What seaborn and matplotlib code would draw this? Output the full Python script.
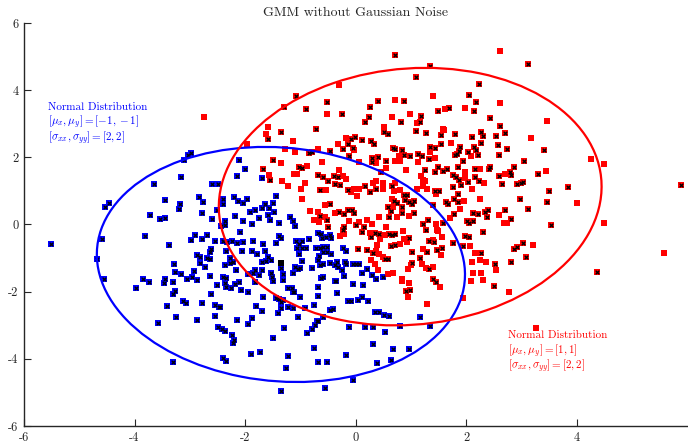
import numpy as np
import pandas as pd
import matplotlib
matplotlib.use("Agg")
import matplotlib.pyplot as plt
from matplotlib.patches import Ellipse
import seaborn as sns

# ---- samples assigned to the first component (blue squares with black crosses)
blue_x = [-2.98, -3.04, -3.10, -3.15, -3.65, -2.60, -2.48, -4.47, -4.53, -3.44, -3.18, -3.20, -2.84, -2.76,
          -2.51, -2.78, -3.72, -3.54, -3.45, -2.60, -2.44, -5.52, -4.58, -3.81, -2.90, -2.97, -2.78, -2.69,
          -2.54, -3.38, -2.61, -2.63, -4.68, -2.87, -2.81, -2.68, -2.63, -2.81, -2.72, -3.29, -3.26, -3.16,
          -2.92, -4.56, -3.84, -3.74, -3.45, -3.47, -3.31, -3.05, -2.96, -2.87, -2.63, -2.36, -2.51, -3.97,
          -3.27, -3.30, -2.62, -3.12, -3.07, -2.77, -2.54, -2.47, -3.42, -3.24, -2.87, -2.54, -3.58, -2.49,
          -3.30,
          -2.10, -2.00, -2.15, -1.70, -2.40, -2.20, -2.12, -2.04, -1.96, -1.81, -1.91, -1.64, -1.69, -1.56,
          -1.50, -1.44, -1.48, -1.59, -1.75, -1.54, -2.19, -2.37, -2.40, -2.04, -1.87, -1.38, -1.19, -1.13,
          -1.10, -2.36, -2.09, -2.40, -2.32, -2.24, -2.15, -2.03, -1.86, -1.67, -1.44, -1.39, -1.35, -1.07,
          -0.97, -0.84, -1.03, -1.05, -0.97, -0.68, -0.63, -0.60, -0.54, -0.47, -0.44, -0.71, -0.64, -0.58,
          -0.51, -0.59, -0.52, -0.45, -0.66, -0.67, -0.58, -0.64, -0.46, -0.34, -0.23, -0.18, -0.37, -0.31,
          -0.25, -0.19, -0.17, -0.21, -0.05, 0.01, 0.07, 0.12, 0.21, 0.30, 0.49, -0.35, -0.38, -0.05,
          0.13, 0.38, -0.58, -0.62, -0.67, -0.67, -0.33, -0.14, 0.04, 0.12, 0.23, -0.08, 0.35, 0.42,
          0.51, 0.60, 0.81, -0.46, -0.41, -0.76, -0.59, -0.67, -0.70, -0.73, -0.78, -0.87, -0.12, 0.18,
          0.32, 0.54, 0.32, 0.68, 0.97, 0.64, 0.39, -0.17, -0.68, -0.51, -0.05, -0.55, -1.35, -1.26,
          -1.23, -0.76, -1.50, -1.29, -1.72, -1.89, -2.40, -2.34, -2.20, -2.22, -2.24, -2.37, -2.42, -1.94,
          -1.87, -2.14, -2.46, -1.70, -1.80, -1.40, -1.34, -1.23, -1.34, -1.39, -1.31, -1.04, -0.91, -1.14,
          -1.00, -1.11, -1.22, -1.43, -1.68, -1.95, -2.07, -2.25, -2.34, -2.18, -2.10, -2.34, -2.40, -1.81,
          -1.49, -1.32, -1.15, -1.13, -1.52, -1.53, -1.86, -1.95, -1.75, -1.82, -1.69, -2.17, -2.36, -2.27,
          -2.21, -1.70, -1.62, -1.53, -1.58, -1.79, -1.87, -2.05, -2.34, -2.28, -1.63, -1.35, -1.31, -1.14,
          -1.10, -1.04, -1.00, -0.97, -1.03, -0.79, -0.89, 1.17, 1.35]
blue_y = [2.13, 2.07, 1.92, 1.42, 1.20, 1.22, 1.22, 0.65, 0.51, 0.72, 0.62, 0.46, 0.83, 0.68,
          0.43, 0.35, 0.27, 0.16, 0.19, 0.17, -0.04, -0.59, -0.43, -0.33, -0.31, -0.45, -0.43, -0.32,
          -0.49, -0.61, -0.72, -0.83, -1.02, -0.91, -0.96, -0.99, -1.04, -1.16, -1.26, -1.17, -1.41, -1.47,
          -1.38, -1.62, -1.63, -1.71, -1.62, -1.73, -1.71, -1.63, -1.56, -1.65, -1.53, -1.73, -1.80, -1.90,
          -1.97, -2.08, -2.08, -2.29, -2.35, -2.33, -2.39, -2.45, -2.42, -2.75, -2.84, -2.72, -2.92, -3.04,
          -4.10,
          1.92, 1.65, 1.45, 1.39, 0.75, 0.83, 0.71, 0.63, 0.76, 0.43, 0.37, 0.61, 0.48, 0.48,
          0.63, 0.84, 0.38, 0.29, 0.20, 0.13, 0.24, 0.11, 0.61, 0.10, 0.01, 0.04, 0.21, 0.10,
          -0.04, -0.02, -0.21, -0.48, -0.53, -0.50, -0.56, -0.52, -0.50, -0.57, -0.54, -0.34, -0.41, -0.48,
          -0.49, -0.44, -0.59, -0.70, -0.69, -0.26, -0.28, -0.40, -0.36, -0.32, -0.41, -0.69, -0.71, -0.66,
          -0.68, -0.83, -0.83, -0.89, -0.94, -1.07, -1.19, -1.20, -1.15, -1.13, -0.71, -0.78, -1.22, -1.27,
          -1.36, -1.12, -1.19, -1.52, -1.19, -1.19, -1.19, -1.45, -1.33, -1.51, -1.55, -1.69, -1.69, -1.77,
          -1.80, -1.63, -1.55, -1.59, -1.86, -2.13, -2.03, -2.27, -2.25, -2.17, -2.27, -2.29, -2.61, -2.61,
          -2.70, -2.72, -3.01, -2.55, -2.53, -2.40, -2.75, -2.86, -2.86, -3.00, -3.10, -3.22, -3.06, -3.06,
          -3.06, -3.21, -3.57, -3.70, -3.70, -4.04, -4.13, -3.90, -4.09, -4.09, -4.63, -4.87, -4.95, -4.26,
          -3.91, -3.68, -3.39, -3.09, -3.80, -3.85, -3.98, -4.07, -3.44, -3.54, -3.28, -3.16, -3.12, -2.97,
          -2.77, -2.84, -2.47, -2.58, -2.43, -2.63, -2.50, -2.45, -2.31, -2.23, -2.25, -2.75, -2.50, -2.50,
          -2.15, -2.01, -1.90, -2.20, -2.15, -2.00, -1.95, -1.90, -1.87, -1.77, -1.70, -1.59, -1.57, -1.71,
          -1.69, -1.66, -1.88, -2.02, -1.57, -1.44, -1.45, -1.47, -1.51, -1.35, -1.35, -1.35, -1.22, -1.16,
          -1.12, -1.13, -1.09, -1.06, -0.96, -0.88, -0.80, -0.80, -0.78, -0.99, -0.78, -1.30, -1.47, -1.43,
          -1.26, -1.33, -1.29, -1.09, -0.89, -1.29, -0.69, -2.75, -3.02]

# ---- samples assigned to the second component, marked with a black cross
red_cross_x = [-1.08, -1.29, -0.90, -0.52, -0.24, 0.40, 0.88, 0.26, 0.24, 0.17, 0.83, 0.52, 0.59, 1.10,
               -1.58, -1.35, -0.72, -0.84, -0.79, -0.46, -0.08, -0.01, 0.12, 0.28, 0.33, -0.14, -0.23, -0.05,
               -0.12, 0.29, 0.29, 0.41, 0.68, 0.72, 0.85, 0.87, 0.99, 0.55, 0.47, -1.49, -1.67, -1.55,
               -1.02, -0.96, -0.68, -0.59, -0.49, -0.37, -0.39, -0.32, -0.64, -0.28, -0.14, 0.17, 0.27, 0.38,
               0.66, 0.87, 0.93, 0.89, 0.96, 1.02, 1.05, 0.85, 0.70, 0.76, 0.59, 0.64, 0.85, 1.05,
               -0.65, -0.51, -0.50, -0.46, -0.30, -0.21, -0.14, -0.06, -0.02, -0.21, -0.22, 0.01, 0.15, 0.12,
               0.61, 0.36, 0.28, 0.43, 0.61, 0.66, 0.71, 0.96, 0.72, 0.64, 0.53, 0.59, 0.04, 0.20,
               1.02, 1.03, 0.91, 0.99, 0.32,
               3.12, 1.34, 1.10, 2.23, 2.05, 2.18, 1.70, 1.50, 2.14, 1.18, 1.17, 2.44, 1.28, 1.55,
               1.80, 2.10, 2.28, 2.30, 2.55, 2.62, 2.71, 1.55, 1.34, 1.43, 1.90, 2.14, 2.27, 2.19,
               2.58, 2.74, 3.42, 1.14, 1.21, 1.88, 1.84, 1.80, 2.04, 2.22, 2.60, 1.33, 1.95, 3.05,
               1.25, 1.49, 1.44, 1.59, 1.66, 1.86, 2.16, 2.41, 2.43, 2.80, 2.81, 2.87, 3.31, 1.77,
               1.82, 1.88, 2.04, 2.17, 2.24, 2.60, 1.43, 1.51, 1.76, 1.91, 2.65, 2.92, 3.00, 3.04,
               3.85, 3.50, 5.89, 1.85, 1.78, 1.63, 1.68, 1.86, 2.98, 3.47, 1.41, 1.79, 2.13, 2.21,
               2.39, 2.34, 2.71, 3.12, 1.58, 1.32, 1.23, 2.01, 2.12, 2.06, 2.38, 2.81, 3.54, 1.28,
               1.33, 1.42, 1.76, 1.99, 2.06, 2.31, 1.95, 1.30, 1.47, 1.56, 2.28, 2.86, 2.92, 3.03,
               3.09, 1.17, 2.53, 2.82, 1.33, 1.40, 1.45, 2.50, 4.37, 0.72]
red_cross_y = [3.84, 3.51, 3.44, 3.66, 3.30, 3.68, 3.68, 3.51, 3.21, 3.06, 3.06, 2.75, 2.70, 2.78,
               2.55, 2.75, 2.85, 2.12, 2.16, 2.19, 2.54, 2.60, 2.52, 2.49, 2.41, 2.40, 2.26, 2.28,
               2.05, 1.99, 1.87, 2.00, 2.29, 2.24, 2.23, 2.08, 2.04, 1.89, 1.56, 1.92, 1.64, 1.33,
               1.72, 1.68, 1.48, 1.42, 1.30, 1.21, 1.45, 1.41, 1.03, 1.19, 1.03, 1.14, 0.96, 1.06,
               1.16, 0.89, 0.87, 0.74, 0.68, 0.60, 0.70, 0.53, 0.70, 0.65, 0.51, 0.39, 0.35, 0.35,
               0.25, 0.13, -0.07, 0.61, 0.37, 0.31, 0.42, 0.43, 0.35, -0.06, -0.15, -0.01, -0.06, -0.21,
               0.23, -0.26, -0.36, -0.29, -0.28, -0.31, -0.28, -0.39, -0.60, -0.64, -1.03, -1.02, -0.74, -0.75,
               -0.82, -1.15, -1.97, -1.96, -0.84,
               4.78, 4.71, 4.39, 4.18, 3.85, 3.64, 3.47, 3.39, 3.38, 3.23, 3.06, 3.18, 2.72, 2.67,
               2.69, 2.61, 2.75, 2.64, 2.64, 2.92, 2.73, 2.39, 2.31, 2.28, 2.31, 2.31, 2.44, 2.21,
               2.37, 2.25, 2.21, 2.09, 2.03, 2.18, 2.10, 2.06, 2.16, 2.08, 2.07, 1.94, 1.88, 1.88,
               1.63, 1.72, 1.57, 1.60, 1.66, 1.72, 1.64, 1.64, 1.70, 1.57, 1.48, 1.70, 1.49, 1.47,
               1.41, 1.33, 1.26, 1.42, 1.30, 1.45, 1.01, 1.01, 1.11, 1.17, 1.21, 1.20, 1.25, 1.27,
               1.11, 1.01, 1.17, 0.90, 0.76, 0.66, 0.61, 0.66, 0.75, 0.67, 0.58, 0.32, 0.34, 0.32,
               0.43, 0.38, 0.43, 0.47, 0.05, 0.13, 0.01, 0.10, 0.10, 0.05, 0.23, 0.17, -0.02, -0.17,
               -0.50, -0.51, -0.54, -0.34, -0.38, -0.22, -0.64, -0.82, -0.76, -0.71, -0.84, -0.72, -0.68, -0.56,
               -0.96, -0.99, -1.18, -1.13, -1.33, -1.63, -1.72, -1.84, -1.42, 5.05]

# ---- samples assigned to the second component without a cross
red_plain_x = [-0.29, -0.51, 0.72, 0.66, 0.98, 1.11, 0.51, -1.59, -1.62, -1.13, -1.96, -1.27, -1.10, -0.67,
               -0.32, -0.17, -0.02, 0.07, 0.38, 0.79, 0.71, 0.81, 0.55, 0.91, 1.13, -1.35, -1.57, -1.33,
               -1.22, -1.11, -1.06, -0.87, -0.91, -0.99, -0.61, -0.22, -0.29, -0.18, -0.53, -0.09, -0.02, 0.07,
               0.02, 0.32, 0.38, 0.49, 0.50, 0.72, 0.69, 0.81, 1.11, 0.66, 0.68, 0.75, 0.96, -0.96,
               -0.82, -0.67, -0.76, -0.66, -0.55, -0.55, -0.37, -0.12, -0.20, -0.28, 0.07, 0.21, 0.30, 0.43,
               0.55, 0.27, 0.44, 0.53, 0.86, 0.88, 0.93, 0.80, 0.39, 0.38, 0.43, 0.50, 0.28, 0.35,
               1.00, 0.95, 0.85, 0.84, 0.68, 0.58, 0.41, 0.97, 0.95,
               2.62, 1.40, 2.62, 1.99, 1.62, 3.47, 1.58, 1.61, 3.17, 1.72, 1.35, 2.09, 1.43, 4.26,
               4.49, 1.98, 2.26, 2.71, 3.45, 1.19, 1.99, 2.33, 1.22, 1.26, 1.23, 1.29, 1.46, 2.10,
               1.96, 2.26, 4.00, 1.90, 2.60, 1.71, 1.46, 2.68, 2.75, 4.50, 1.48, 1.49, 1.57, 1.40,
               2.07, 1.23, 1.54, 2.17, 3.22, 2.26, 2.11, 2.37, 1.21, 1.28, 1.40, 2.55, 2.12, 2.28,
               1.53, 2.09, 2.30, 2.78, 5.59, 1.94, 1.30, 3.27, -2.74]
red_plain_y = [4.15, 3.30, 3.71, 3.21, 3.28, 3.03, 2.91, 2.91, 2.69, 2.49, 2.39, 2.24, 2.17, 2.24,
               2.39, 2.57, 2.21, 1.86, 1.82, 2.04, 1.89, 1.89, 1.67, 1.61, 1.86, 1.82, 1.48, 1.30,
               1.15, 1.49, 1.51, 1.73, 1.24, 1.05, 1.85, 1.44, 1.63, 1.36, 1.04, 0.96, 1.07, 1.05,
               0.86, 1.23, 1.29, 1.23, 1.05, 1.24, 1.00, 1.02, 1.06, 0.76, 0.53, 0.21, 0.24, 0.76,
               0.40, 0.38, 0.13, 0.07, 0.23, 0.57, 0.35, 0.10, -0.28, -0.35, 0.08, 0.14, 0.01, 0.23,
               -0.06, -0.24, -0.42, -0.32, -0.18, -0.43, -0.53, -0.57, -0.62, -0.78, -0.88, -0.96, -1.07, -1.19,
               -1.20, -1.33, -1.62, -1.67, -1.45, -1.48, -1.36, -1.73, -2.15,
               5.18, 3.84, 3.63, 3.48, 3.44, 3.08, 2.85, 2.81, 2.58, 2.43, 2.16, 2.04, 1.97, 1.94,
               1.80, 1.57, 1.64, 1.50, 1.58, 1.45, 1.38, 1.24, 1.33, 1.30, 1.16, 1.05, 0.90, 1.07,
               0.71, 0.75, 0.65, 0.46, 0.29, 0.20, 0.02, 0.04, 0.04, 0.05, -0.16, -0.19, -0.36, -0.46,
               -0.64, -0.74, -0.91, -0.84, -0.61, -1.05, -1.13, -1.13, -1.19, -1.29, -1.27, -1.35, -1.45, -1.44,
               -1.86, -1.69, -1.66, -2.01, -0.85, -2.20, -2.38, -3.07, 3.20]

# estimated mean of the first component
center_x = [-1.34]
center_y = [-1.14]

# fitted covariance ellipses: centre and (sxx, syy, sxy)
ellipse_centers = [(-1.35, -1.19), (0.99, 0.83)]
ellipse_covs = [(11.1, 12.25, -1.0), (12.0, 14.7, 1.05)]
ellipse_colors = ["#0000ff", "#ff0000"]

# annotation lines for each component
blue_note = ["Normal Distribution", r"$[\mu_x, \mu_y] = [-1, -1]$", r"$[\sigma_{xx}, \sigma_{yy}] = [2, 2]$"]
red_note = ["Normal Distribution", r"$[\mu_x, \mu_y] = [1, 1]$", r"$[\sigma_{xx}, \sigma_{yy}] = [2, 2]$"]

x_ticks = [-6, -4, -2, 0, 2, 4]
y_ticks = [-6, -4, -2, 0, 2, 4, 6]

sns.set_style("ticks")
plt.rcParams["font.family"] = ["cmr10", "DejaVu Serif"]
plt.rcParams["mathtext.fontset"] = "cm"
plt.rcParams["axes.unicode_minus"] = False

fig = plt.figure(figsize=(6.88, 4.44), dpi=100)
ax = fig.add_axes([24 / 688, 18 / 444, 663 / 688, 403 / 444])

blue_df = pd.DataFrame({"x": blue_x, "y": blue_y})
cross_df = pd.DataFrame({"x": red_cross_x, "y": red_cross_y})
plain_df = pd.DataFrame({"x": red_plain_x, "y": red_plain_y})

sq = 15
sns.scatterplot(data=blue_df, x="x", y="y", marker="s", color="#0000ff", s=sq, linewidth=0, ax=ax, zorder=3)
sns.scatterplot(data=plain_df, x="x", y="y", marker="s", color="#ff0000", s=sq, linewidth=0, ax=ax, zorder=3)
sns.scatterplot(data=cross_df, x="x", y="y", marker="s", color="#ff0000", s=sq, linewidth=0, ax=ax, zorder=3)
crosses = pd.concat([blue_df, cross_df], ignore_index=True)
sns.scatterplot(data=crosses, x="x", y="y", marker="x", color="black", s=7, linewidth=0.9, ax=ax, zorder=4)
sns.scatterplot(x=center_x, y=center_y, marker="s", color="black", s=22, linewidth=0, ax=ax, zorder=5)

for (cx, cy), (sxx, syy, sxy), col in zip(ellipse_centers, ellipse_covs, ellipse_colors):
    cov = np.array([[sxx, sxy], [sxy, syy]])
    vals, vecs = np.linalg.eigh(cov)
    angle = np.degrees(np.arctan2(vecs[1, 1], vecs[0, 1]))
    ax.add_patch(Ellipse((cx, cy), 2 * np.sqrt(vals[1]), 2 * np.sqrt(vals[0]), angle=angle,
                         fill=False, edgecolor=col, linewidth=1.6, zorder=6))

for line, ly in zip(blue_note, [3.50, 3.03, 2.56]):
    ax.text(-5.57, ly, line, color="#0000ff", fontsize=8, va="center", ha="left")
for line, ly in zip(red_note, [-3.29, -3.76, -4.23]):
    ax.text(2.76, ly, line, color="#ff0000", fontsize=8, va="center", ha="left")

ax.set_xlim(-6, 6)
ax.set_ylim(-6, 6)
ax.set_xticks(x_ticks)
ax.set_yticks(y_ticks)
ax.set_xlabel("")
ax.set_ylabel("")
ax.tick_params(direction="in", length=5, width=0.8, labelsize=9, pad=4, colors="#262626")
sns.despine(ax=ax)
for side in ("left", "bottom"):
    ax.spines[side].set_linewidth(1.0)
    ax.spines[side].set_color("#262626")
ax.set_title("GMM without Gaussian Noise", fontsize=10, pad=5)

fig.savefig("out.png", dpi=100)
